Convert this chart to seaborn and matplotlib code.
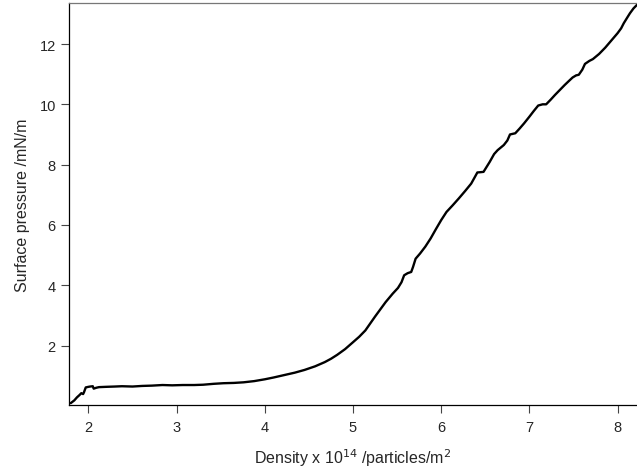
import numpy as np
import pandas as pd
import seaborn as sns
import matplotlib.pyplot as plt

# isotherm
density = [1.80, 1.84, 1.87, 1.90, 1.92, 1.94, 1.95, 1.97, 2.00, 2.02, 2.05, 2.06, 2.09,
           2.12, 2.20, 2.30, 2.38, 2.50, 2.61, 2.72, 2.84, 2.95, 3.07, 3.20, 3.30,
           3.42, 3.53, 3.65, 3.76, 3.88, 4.00, 4.10, 4.22, 4.34, 4.45, 4.57, 4.68,
           4.75, 4.82, 4.91, 5.00, 5.07, 5.14, 5.25, 5.37, 5.45, 5.51, 5.55, 5.58,
           5.62, 5.66, 5.68, 5.71, 5.76, 5.82, 5.88, 5.94, 6.00, 6.06, 6.13, 6.20,
           6.27, 6.34, 6.38, 6.41, 6.45, 6.48, 6.55, 6.60, 6.64, 6.71, 6.75, 6.78,
           6.84, 6.89, 6.94, 7.00, 7.05, 7.10, 7.15, 7.19, 7.24, 7.29, 7.35, 7.40,
           7.45, 7.49, 7.53, 7.56, 7.60, 7.63, 7.68, 7.72, 7.79, 7.86, 7.93, 8.00,
           8.04, 8.07, 8.11, 8.14, 8.18, 8.22]
pressure = [0.09, 0.18, 0.28, 0.36, 0.42, 0.39, 0.45, 0.61, 0.63, 0.64, 0.65, 0.57, 0.60,
            0.62, 0.63, 0.64, 0.65, 0.64, 0.66, 0.67, 0.69, 0.68, 0.69, 0.69, 0.70,
            0.73, 0.75, 0.76, 0.78, 0.82, 0.88, 0.94, 1.02, 1.10, 1.19, 1.31, 1.45,
            1.56, 1.69, 1.88, 2.11, 2.29, 2.50, 2.96, 3.44, 3.72, 3.91, 4.10, 4.33,
            4.40, 4.44, 4.60, 4.88, 5.05, 5.28, 5.55, 5.86, 6.16, 6.43, 6.65, 6.88,
            7.12, 7.37, 7.58, 7.74, 7.75, 7.76, 8.09, 8.35, 8.48, 8.65, 8.80, 9.00,
            9.04, 9.20, 9.37, 9.59, 9.78, 9.96, 10.00, 10.00, 10.15, 10.31, 10.49, 10.64,
            10.78, 10.89, 10.96, 10.98, 11.15, 11.34, 11.44, 11.50, 11.67, 11.88, 12.12, 12.36,
            12.52, 12.69, 12.88, 13.02, 13.18, 13.30]

df = pd.DataFrame({'density': density, 'pressure': pressure})

sns.set_style('ticks')
plt.rcParams['font.family'] = ['Liberation Sans', 'DejaVu Sans']

fig = plt.figure(figsize=(6.37, 4.77), dpi=100)
ax = fig.add_axes([0.1083, 0.149, 0.8917, 0.8426])

sns.lineplot(data=df, x='density', y='pressure', ax=ax, color='black',
             linewidth=1.7, sort=False, estimator=None)

ax.set_xlim(1.78, 8.22)
ax.set_ylim(0.03, 13.36)
ax.set_xticks([2, 3, 4, 5, 6, 7, 8])
ax.set_yticks([2, 4, 6, 8, 10, 12])

ax.set_xlabel('Density x 10$^{14}$ /particles/m$^2$', fontsize=11.5, labelpad=9)
ax.set_ylabel('Surface pressure /mN/m', fontsize=11.5, labelpad=7)
ax.tick_params(axis='both', direction='out', length=5.5, width=0.8,
               labelsize=10.5, color='#444444')
ax.tick_params(axis='x', pad=5)
ax.tick_params(axis='y', pad=4)

for side in ['left', 'bottom']:
    ax.spines[side].set_color('black')
    ax.spines[side].set_linewidth(0.9)
ax.spines['top'].set_visible(True)
ax.spines['top'].set_color('#777777')
ax.spines['top'].set_linewidth(0.9)
ax.spines['right'].set_visible(False)

fig.savefig('out.png', dpi=100)
